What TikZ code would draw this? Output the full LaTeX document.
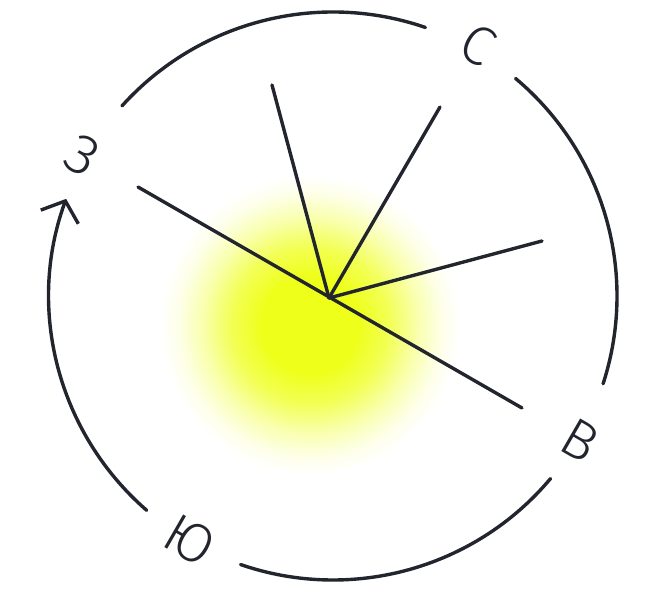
\documentclass[tikz,border=0pt]{standalone}
\usepackage{fontspec}
\setmainfont{Fira Sans}[UprightFont=* Light]
\usetikzlibrary{arrows.meta,calc}
\definecolor{ink}{HTML}{23252E}
\definecolor{glowc}{HTML}{EEFF1A}
\pgfdeclareradialshading{glow}{\pgfpoint{0bp}{0bp}}{color(0bp)=(glowc); color(8bp)=(glowc); color(13bp)=(glowc!75!white); color(18bp)=(glowc!35!white); color(22bp)=(glowc!10!white); color(25bp)=(white); color(50bp)=(white)}
\tikzset{
  ring/.style={draw=ink, line width=3.4pt, line cap=round},
  ray/.style={draw=ink, line width=3.4pt, line cap=round},
  letter/.style={text=ink, font=\fontsize{55}{60}\selectfont, inner sep=0pt},
}
\begin{document}
\begin{tikzpicture}[x=1pt,y=1pt]
\useasboundingbox (0,0) rectangle (646,592);
\shade[shading=glow] (310,267) circle (150);
\coordinate (C) at (333,296);
\coordinate (O) at (329,294);
% ring arcs
\draw[ring] ($(C)+(-18:284)$) arc[start angle=-18, end angle=50, radius=284];
\draw[ring] ($(C)+(71:284)$) arc[start angle=71, end angle=138, radius=284];
\draw[ring, -{Straight Barb[length=17pt,width=40pt]}] ($(C)+(229:284)$) arc[start angle=229, end angle=160, radius=284];
\draw[ring] ($(C)+(251:284)$) arc[start angle=251, end angle=320, radius=284];
% letters
\node[letter, rotate=-30] (N) at (478,547) {С};
\node[letter, rotate=-30] (E) at (580,152) {В};
\node[letter, rotate=-30] (S) at (190,52) {Ю};
\node[letter, rotate=-30] (W) at (82,437) {З};
% rays
\coordinate (r1) at (138,405);
\coordinate (r2) at (522,184);
\coordinate (r3) at (272,507);
\coordinate (r4) at (440,485);
\coordinate (r5) at (542,351);
\draw[ray] (r1) -- (r2);
\draw[ray] (O) -- (r3);
\draw[ray] (O) -- (r4);
\draw[ray] (O) -- (r5);
\end{tikzpicture}
\end{document}
